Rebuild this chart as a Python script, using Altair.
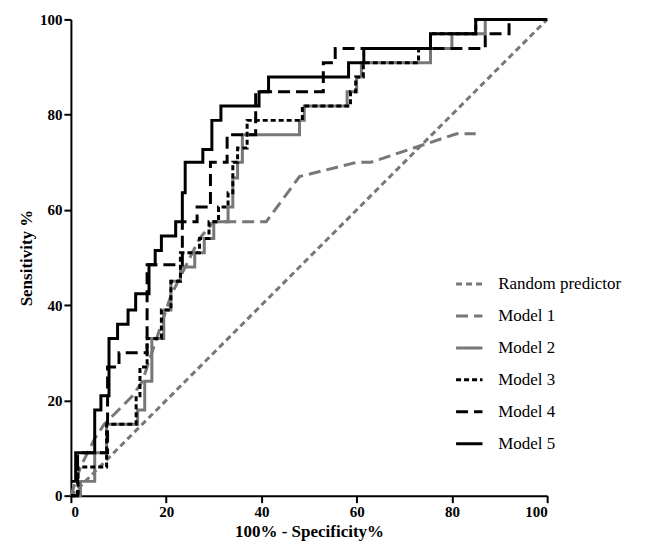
import altair as alt
import pandas as pd

# step curves: (x where the jump happens, sensitivity after the jump)
m2_x = [0, 2, 5, 7.5, 14, 15.5, 17, 19.5, 21, 23, 26, 28, 30, 33, 34, 35, 36, 40, 48, 49, 58, 60, 61, 75.5, 80, 87, 100]
m2_y = [0, 3, 9, 15, 18, 24, 33, 39, 45, 48, 51, 54, 57.5, 60.6, 66.7, 70, 75.8, 75.8, 78.8, 81.8, 84.8, 87.9, 90.9, 93.9, 97, 100, 100]
m3_x = [0, 1.5, 7.5, 13.7, 14.5, 16, 19, 21, 23, 27, 29, 31, 33, 34, 35, 37, 48.6, 58.7, 59.8, 61.4, 73, 75.5, 85, 100]
m3_y = [0, 6, 15, 21, 27, 33, 39, 45, 51, 54, 57.5, 60.6, 63.6, 70, 73, 78.8, 81.8, 84.8, 87.9, 90.9, 93.9, 97, 100, 100]
m4_x = [0, 1.4, 7.7, 10.1, 16, 23.4, 26.5, 29.3, 32.8, 38.8, 53, 55.5, 87, 92, 100]
m4_y = [0, 9, 27, 30, 48.5, 57.5, 60.6, 70, 75.8, 84.8, 90.9, 93.9, 97, 100, 100]
m5_x = [0, 1, 5, 6.3, 8, 9.8, 12, 13.6, 16.4, 17.7, 19, 22, 23.4, 24, 27.7, 29.6, 31.5, 39.5, 41.5, 58.3, 61.5, 75.5, 85, 100]
m5_y = [3, 9, 18, 21, 33, 36, 39, 42.4, 48.5, 51.5, 54.5, 57.5, 63.6, 70, 72.7, 78.8, 81.8, 84.8, 87.9, 90.9, 93.9, 97, 100, 100]

# smooth curves
m1_x = [0, 2, 5, 7, 10, 13, 15, 17, 19, 21, 24, 27, 30, 41, 48, 60, 63, 75, 81, 85]
m1_y = [0, 6, 12, 15, 18, 21, 24, 30, 36, 42, 48, 54, 57.5, 57.5, 67, 70, 70, 74, 76, 76]
rnd_x = [0, 100]
rnd_y = [0, 100]

names = ["Random predictor", "Model 1", "Model 2", "Model 3", "Model 4", "Model 5"]
colors = ["#777777", "#777777", "#777777", "#000000", "#000000", "#000000"]
dashes = [[6, 4], [12, 6], [1, 0], [5, 3], [12, 6], [1, 0]]


def frame(name, xs, ys):
    return pd.DataFrame({"x": xs, "y": ys, "series": name, "order": range(len(xs))})


steps = pd.concat([frame("Model 2", m2_x, m2_y), frame("Model 3", m3_x, m3_y),
                   frame("Model 4", m4_x, m4_y), frame("Model 5", m5_x, m5_y)])
smooth = pd.concat([frame("Random predictor", rnd_x, rnd_y), frame("Model 1", m1_x, m1_y)])

font = "Times New Roman, Liberation Serif, DejaVu Serif, serif"
x_enc = alt.X("x:Q", scale=alt.Scale(domain=[0, 100], nice=False),
              axis=alt.Axis(values=[0, 20, 40, 60, 80, 100], title="100% - Specificity%"))
y_enc = alt.Y("y:Q", scale=alt.Scale(domain=[0, 100], nice=False),
              axis=alt.Axis(values=[0, 20, 40, 60, 80, 100], title="Sensitivity %"))
color = alt.Color("series:N", scale=alt.Scale(domain=names, range=colors),
                  legend=alt.Legend(title=None, orient="none", legendX=384, legendY=250,
                                    symbolType="stroke", symbolSize=700, symbolStrokeWidth=3,
                                    labelFontSize=17, labelFont=font, rowPadding=9,
                                    labelOffset=14, labelLimit=0, labelColor="black"))
dash = alt.StrokeDash("series:N", scale=alt.Scale(domain=names, range=dashes))

base_s = alt.Chart(smooth).mark_line(strokeWidth=3).encode(
    x_enc, y_enc, color, dash, order="order:Q")
base_st = alt.Chart(steps).mark_line(strokeWidth=3, interpolate="step-after").encode(
    x_enc, y_enc, color, dash, order="order:Q")

chart = (
    alt.layer(base_s, base_st)
    .properties(width=477, height=477, autosize=alt.AutoSizeParams(type="none"),
                padding={"left": 63, "top": 11, "right": 100, "bottom": 55})
    .configure_view(stroke=None)
    .configure_axis(grid=False, domainColor="black", domainWidth=2, tickColor="black",
                    tickWidth=2, tickSize=7, labelFont=font, labelFontSize=15,
                    labelFontWeight="bold", labelColor="black", titleFont=font,
                    titleFontSize=17, titleFontWeight="bold", titleColor="black")
)
chart.save("out.html", embed_options={"renderer": "svg", "actions": False})
